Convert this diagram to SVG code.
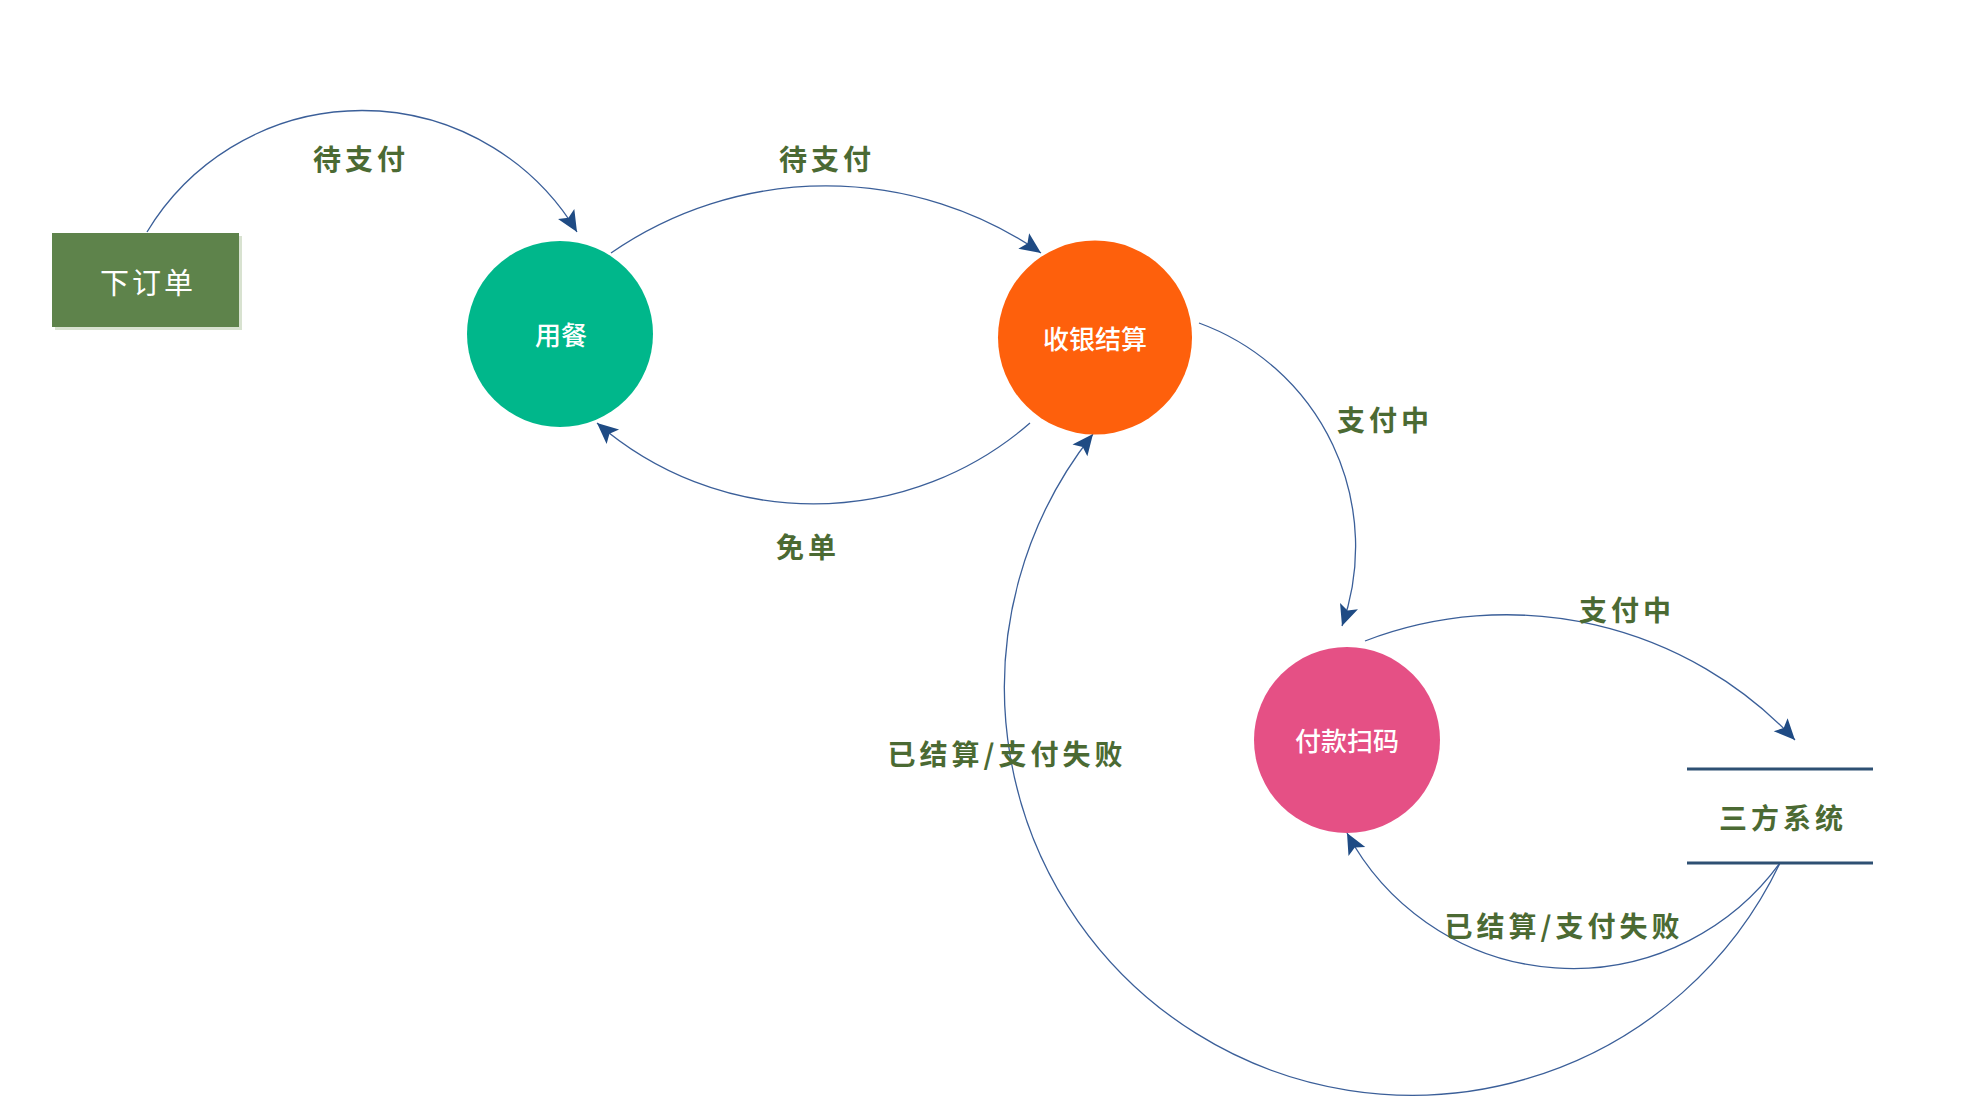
<svg xmlns="http://www.w3.org/2000/svg" width="1974" height="1108" viewBox="0 0 1974 1108">
  <style>
    .conn { fill: none; stroke: #3b5f99; stroke-width: 1.3; }
    .lbl { font-family: "Noto Sans CJK SC", "Noto Sans", sans-serif; font-size: 28px; font-weight: 700; fill: #4b6a33; text-anchor: middle; dominant-baseline: central; letter-spacing: 4px; }
    .ntxt { font-family: "Noto Sans CJK SC", "Noto Sans", sans-serif; font-size: 26px; font-weight: 500; fill: #ffffff; text-anchor: middle; dominant-baseline: central; }
    .sys { stroke: #2e5073; stroke-width: 3; fill: none; }
  </style>
  <defs>
    <marker id="arr" viewBox="-22 -11 24 22" refX="0" refY="0" markerWidth="24" markerHeight="22" markerUnits="userSpaceOnUse" orient="auto">
      <path d="M0,0 L-21,-9.5 L-16.5,0 L-21,9.5 Z" fill="#1f4b84"/>
    </marker>
  </defs>
  <rect width="1974" height="1108" fill="#ffffff"/>

  <g id="connectors">
    <path class="conn" d="M147,232 A251,251 0 0 1 577,232" marker-end="url(#arr)"/>
    <path class="conn" d="M611,253 A378,378 0 0 1 1041,253" marker-end="url(#arr)"/>
    <path class="conn" d="M1030,423 A330,330 0 0 1 597,423" marker-end="url(#arr)"/>
    <path class="conn" d="M1199,323 A238,238 0 0 1 1342,626" marker-end="url(#arr)"/>
    <path class="conn" d="M1365,641 A395,395 0 0 1 1795,740" marker-end="url(#arr)"/>
    <path class="conn" d="M1780,863 A256,256 0 0 1 1347,833" marker-end="url(#arr)"/>
    <path class="conn" d="M1780,863 A407.6,407.6 0 1 1 1093,434" marker-end="url(#arr)"/>
  </g>

  <g id="labels">
    <text class="lbl" x="361" y="158">待支付</text>
    <text class="lbl" x="827" y="158">待支付</text>
    <text class="lbl" x="808" y="546">免单</text>
    <text class="lbl" x="1385" y="419">支付中</text>
    <text class="lbl" x="1627" y="609">支付中</text>
    <text class="lbl" x="1007" y="753">已结算/支付失败</text>
    <text class="lbl" x="1564" y="925">已结算/支付失败</text>
  </g>

  <g id="node-order">
    <rect x="55" y="236" width="187" height="94" fill="#d8e2d0"/>
    <rect x="52" y="233" width="187" height="94" fill="#5e834b"/>
    <text x="148" y="281" font-family="Noto Sans CJK SC, sans-serif" font-size="29" fill="#ffffff" text-anchor="middle" dominant-baseline="central" letter-spacing="3">下订单</text>
  </g>

  <g id="node-dining">
    <circle cx="560" cy="334" r="93" fill="#00b78b"/>
    <text class="ntxt" x="561" y="333">用餐</text>
  </g>

  <g id="node-checkout">
    <circle cx="1095" cy="337.5" r="97" fill="#fe600c"/>
    <text class="ntxt" x="1095" y="337">收银结算</text>
  </g>

  <g id="node-pay">
    <circle cx="1347" cy="740" r="93" fill="#e55085"/>
    <text class="ntxt" x="1347" y="739">付款扫码</text>
  </g>

  <g id="node-third">
    <path class="sys" d="M1687,769 H1873"/>
    <path class="sys" d="M1687,863 H1873"/>
    <text class="lbl" x="1783" y="817">三方系统</text>
  </g>
</svg>
